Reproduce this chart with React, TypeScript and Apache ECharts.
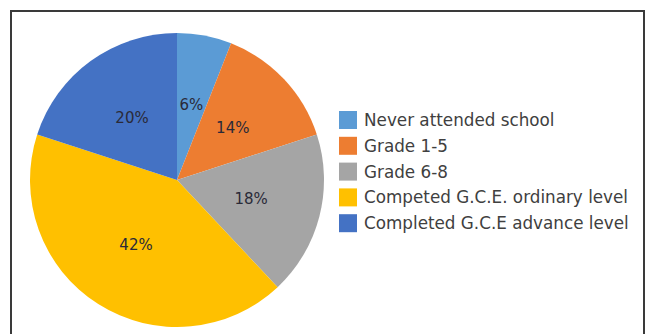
import React, { useEffect, useRef } from "react";
import * as echarts from "echarts";

const categories = [
  "Never attended school",
  "Grade 1-5",
  "Grade 6-8",
  "Competed G.C.E. ordinary level",
  "Completed G.C.E advance level",
];
const values = [6, 14, 18, 42, 20];
const colors = ["#5B9BD5", "#ED7D31", "#A5A5A5", "#FFC000", "#4472C4"];

export default function App() {
  const ref = useRef<HTMLDivElement>(null);
  useEffect(() => {
    if (!ref.current) return;
    const chart = echarts.init(ref.current, null, { renderer: "svg" });
    chart.setOption({
      animation: false,
      backgroundColor: "#ffffff",
      color: colors,
      graphic: [
        {
          type: "rect",
          shape: { x: 11, y: 11, width: 633, height: 340 },
          style: { fill: "none", stroke: "#3a3a3a", lineWidth: 2 },
          silent: true,
        },
      ],
      legend: {
        orient: "vertical",
        left: 339,
        top: 111,
        padding: 0,
        icon: "rect",
        itemWidth: 18,
        itemHeight: 18,
        itemGap: 7.8,
        data: categories,
        textStyle: {
          fontFamily: "DejaVu Sans",
          fontSize: 16.8,
          lineHeight: 18,
          color: "#404040",
          padding: [0, 0, 0, 2],
        },
      },
      series: [
        {
          type: "pie",
          center: [177, 180],
          radius: 147,
          startAngle: 90,
          clockwise: true,
          avoidLabelOverlap: false,
          data: categories.map((name, i) => ({ name, value: values[i] })),
          itemStyle: { borderWidth: 0 },
          label: {
            show: true,
            position: "inside",
            formatter: (p: any) => `${p.value}%`,
            fontFamily: "DejaVu Sans",
            fontSize: 15,
            color: "#2a2a38",
          },
          labelLine: { show: false },
          emphasis: { disabled: true },
        },
      ],
    });
    return () => chart.dispose();
  }, []);
  return (
    <div
      ref={ref}
      style={{ position: "fixed", left: 0, top: 0, width: 650, height: 334 }}
    />
  );
}
